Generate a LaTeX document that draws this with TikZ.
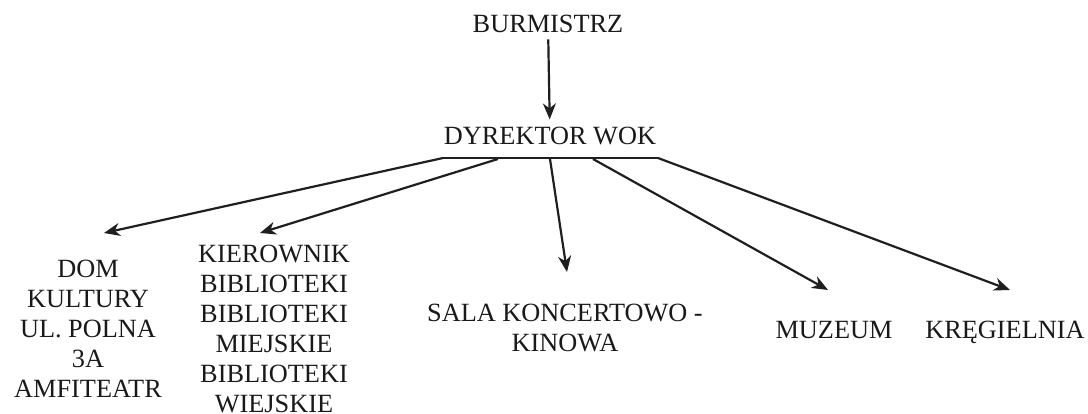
\documentclass[tikz,border=0pt]{standalone}
\usepackage{fontspec}
\setmainfont{Liberation Serif}
\usetikzlibrary{arrows.meta}
\begin{document}
\begin{tikzpicture}[x=1pt,y=-1pt,
  lbl/.style={font=\fontsize{26.3}{30}\selectfont, text=black!90, inner sep=0pt, align=center, anchor=base},
  arr/.style={-{Stealth[length=16pt,width=13pt,inset=5pt]}, line width=2.2pt, draw=black!88},
  bar/.style={line width=2.2pt, draw=black!88}]
\useasboundingbox (0,0) rectangle (1088,414);
\node[lbl] (bur) at (548,33) {BURMISTRZ};
\node[lbl] (dyr) at (550,145) {DYREKTOR WOK};
\node[lbl] (dom) at (88,397) {DOM\\KULTURY\\UL. POLNA\\3A\\AMFITEATR};
\node[lbl] (kier) at (274,412.5) {KIEROWNIK\\BIBLIOTEKI\\BIBLIOTEKI\\MIEJSKIE\\BIBLIOTEKI\\WIEJSKIE};
\node[lbl] (sala) at (565,351.7) {SALA KONCERTOWO -\\KINOWA};
\node[lbl] (muz) at (834,338) {MUZEUM};
\node[lbl] (kreg) at (1005,338) {KRĘGIELNIA};
% bar under director
\coordinate (bl) at (443,158);
\coordinate (br) at (658,158);
\coordinate (b2) at (498,159);
\coordinate (b3) at (550,159);
\coordinate (b4) at (593,159);
\coordinate (t1) at (104,233);
\coordinate (t2) at (260,233);
\coordinate (t3) at (567,272);
\coordinate (t4) at (828,290);
\coordinate (t5) at (1010,290);
\draw[bar] (bl) -- (br);
\draw[arr, shorten <=6pt, shorten >=8pt] (bur) -- (dyr);
\draw[arr] (bl) -- (t1);
\draw[arr] (b2) -- (t2);
\draw[arr] (b3) -- (t3);
\draw[arr] (b4) -- (t4);
\draw[arr] (br) -- (t5);
\end{tikzpicture}
\end{document}
